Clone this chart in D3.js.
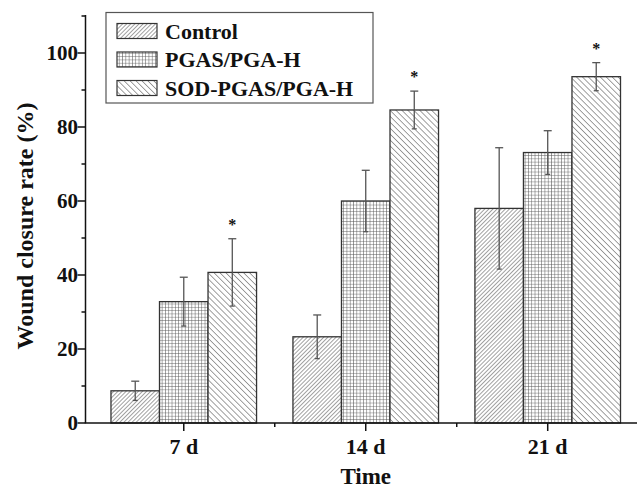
<!DOCTYPE html>
<html>
<head>
<meta charset="utf-8">
<script src="https://cdn.jsdelivr.net/npm/d3@7"></script>
<style>
  body { margin: 0; background: #fff; }
  text { font-family: "Liberation Serif", "Times New Roman", serif; font-weight: bold; fill: #111; }
</style>
</head>
<body>
<div class="chart"></div>
<script>
var w = 637, h = 489;

var times = ["7 d", "14 d", "21 d"];
var groupNames = ["Control", "PGAS/PGA-H", "SOD-PGAS/PGA-H"];
var controlMean = [8.7, 23.3, 58.0];
var controlErr = [2.6, 5.9, 16.4];
var pgasMean = [32.8, 60.0, 73.1];
var pgasErr = [6.6, 8.3, 5.9];
var sodMean = [40.7, 84.6, 93.6];
var sodErr = [9.1, 5.1, 3.8];
var sodStar = [true, true, true];
var yTicks = [0, 20, 40, 60, 80, 100];
var yMinor = [10, 30, 50, 70, 90, 110];

var means = [controlMean, pgasMean, sodMean];
var errs = [controlErr, pgasErr, sodErr];
var fills = ["url(#hatchCtrl)", "url(#hatchGrid)", "url(#hatchSod)"];

var x = d3.scaleLinear().domain([0.46, 3.5]).range([85.5, 638.7]);
var y = d3.scaleLinear().domain([0, 110]).range([423, 16]);

var svg = d3.select(".chart")
    .append("svg")
    .attr("width", w)
    .attr("height", h);

// hatch patterns
var defs = svg.append("defs");
function stripes(id, gap, angle) {
    var p = defs.append("pattern")
        .attr("id", id)
        .attr("patternUnits", "userSpaceOnUse")
        .attr("width", gap).attr("height", gap)
        .attr("patternTransform", "rotate(" + angle + ")");
    p.append("rect").attr("width", gap).attr("height", gap).attr("fill", "#fff");
    p.append("line").attr("x1", 0).attr("y1", 0).attr("x2", 0).attr("y2", gap)
        .attr("stroke", "#555").attr("stroke-width", 1.1);
}
stripes("hatchCtrl", 2.9, 45);
stripes("hatchSod", 4.2, -45);
var gp = defs.append("pattern")
    .attr("id", "hatchGrid")
    .attr("patternUnits", "userSpaceOnUse")
    .attr("width", 3.3).attr("height", 3.3);
gp.append("rect").attr("width", 3.3).attr("height", 3.3).attr("fill", "#fff");
gp.append("path").attr("d", "M0,0H3.3M0,0V3.3")
    .attr("stroke", "#555").attr("stroke-width", 1);

// bars
var barW = x(1 + 0.8 / 3) - x(1);
var data = [];
times.forEach(function(t, i) {
    groupNames.forEach(function(g, j) {
        data.push({ i: i, j: j, v: means[j][i], e: errs[j][i] });
    });
});
function barX(d) { return x(d.i + 1) - 1.5 * barW + d.j * barW; }

svg.selectAll(".bar")
    .data(data)
    .enter()
    .append("rect")
    .attr("class", "bar")
    .attr("x", barX)
    .attr("y", function(d) { return y(d.v); })
    .attr("width", barW)
    .attr("height", function(d) { return y(0) - y(d.v); })
    .attr("fill", function(d) { return fills[d.j]; })
    .attr("stroke", "#333")
    .attr("stroke-width", 1.3);

// error bars
var eb = svg.selectAll(".err")
    .data(data)
    .enter()
    .append("g")
    .attr("class", "err")
    .attr("stroke", "#555")
    .attr("stroke-width", 1.3);
eb.append("line")
    .attr("x1", function(d) { return barX(d) + barW / 2; })
    .attr("x2", function(d) { return barX(d) + barW / 2; })
    .attr("y1", function(d) { return y(d.v - d.e); })
    .attr("y2", function(d) { return y(d.v + d.e); });
eb.append("line")
    .attr("x1", function(d) { return barX(d) + barW / 2 - 4; })
    .attr("x2", function(d) { return barX(d) + barW / 2 + 4; })
    .attr("y1", function(d) { return y(d.v + d.e); })
    .attr("y2", function(d) { return y(d.v + d.e); });
eb.append("line")
    .attr("x1", function(d) { return barX(d) + barW / 2 - 2.5; })
    .attr("x2", function(d) { return barX(d) + barW / 2 + 2.5; })
    .attr("y1", function(d) { return y(d.v - d.e); })
    .attr("y2", function(d) { return y(d.v - d.e); });

// significance stars
svg.selectAll(".star")
    .data(data.filter(function(d) { return d.j == 2 && sodStar[d.i]; }))
    .enter()
    .append("text")
    .attr("class", "star")
    .attr("x", function(d) { return barX(d) + barW / 2; })
    .attr("y", function(d) { return y(d.v + d.e) - 9; })
    .attr("text-anchor", "middle")
    .style("font-size", "16px")
    .text("*");

// axes
var axisG = svg.append("g").attr("stroke", "#111").attr("stroke-width", 1.5);
axisG.append("line").attr("x1", x(0.46)).attr("x2", x(0.46)).attr("y1", y(110) - 1).attr("y2", y(0));
axisG.append("line").attr("x1", x(0.46) - 0.75).attr("x2", w).attr("y1", y(0)).attr("y2", y(0));

axisG.selectAll(".ytick").data(yTicks).enter().append("line")
    .attr("x1", x(0.46) - 8).attr("x2", x(0.46))
    .attr("y1", function(d) { return y(d); }).attr("y2", function(d) { return y(d); });
axisG.selectAll(".ymin").data(yMinor).enter().append("line")
    .attr("x1", x(0.46) - 4).attr("x2", x(0.46))
    .attr("y1", function(d) { return y(d); }).attr("y2", function(d) { return y(d); });
axisG.selectAll(".xtick").data(times).enter().append("line")
    .attr("x1", function(d, i) { return x(i + 1); }).attr("x2", function(d, i) { return x(i + 1); })
    .attr("y1", y(0)).attr("y2", y(0) + 8);
axisG.selectAll(".xmin").data([1.5, 2.5]).enter().append("line")
    .attr("x1", function(d) { return x(d); }).attr("x2", function(d) { return x(d); })
    .attr("y1", y(0)).attr("y2", y(0) + 4);

svg.selectAll(".ylab").data(yTicks).enter().append("text")
    .attr("x", 78)
    .attr("y", function(d) { return y(d); })
    .attr("dy", "0.35em")
    .attr("text-anchor", "end")
    .style("font-size", "21px")
    .text(function(d) { return d; });

svg.selectAll(".xlab").data(times).enter().append("text")
    .attr("x", function(d, i) { return x(i + 1); })
    .attr("y", 453.5)
    .attr("text-anchor", "middle")
    .style("font-size", "22px")
    .text(function(d) { return d; });

svg.append("text")
    .attr("x", x(2))
    .attr("y", 484)
    .attr("text-anchor", "middle")
    .style("font-size", "23px")
    .text("Time");

svg.append("text")
    .attr("transform", "translate(33,226) rotate(-90)")
    .attr("text-anchor", "middle")
    .style("font-size", "24px")
    .text("Wound closure rate (%)");

// legend
var leg = svg.append("g");
leg.append("rect")
    .attr("x", 106).attr("y", 12.5).attr("width", 267).attr("height", 90.5)
    .attr("fill", "#fff").attr("stroke", "#555").attr("stroke-width", 1.2);
var rows = leg.selectAll(".row").data(groupNames).enter().append("g")
    .attr("transform", function(d, i) { return "translate(0," + (31 + i * 28.5) + ")"; });
rows.append("rect")
    .attr("x", 117).attr("y", -7.5).attr("width", 40).attr("height", 15)
    .attr("fill", function(d, i) { return fills[i]; })
    .attr("stroke", "#333").attr("stroke-width", 1.2);
rows.append("text")
    .attr("x", 165).attr("dy", "0.35em")
    .style("font-size", "22px")
    .text(function(d) { return d; });
</script>
</body>
</html>
